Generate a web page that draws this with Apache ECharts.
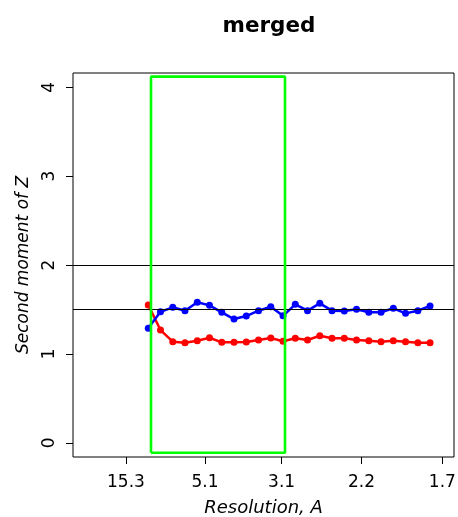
<!DOCTYPE html>
<html>
<head>
<meta charset="utf-8">
<script src="https://cdn.jsdelivr.net/npm/echarts@6/dist/echarts.min.js"></script>
<style>html,body{margin:0;padding:0;background:#fff}#c{width:458px;height:517px}</style>
</head>
<body>
<div id="c"></div>
<script>
// x values are 1/d (inverse resolution, 1/Å)
var xValues = [0.1022,0.1224,0.1427,0.1629,0.1832,0.2034,0.2237,0.2439,0.2642,0.2844,0.3047,0.3249,
               0.3452,0.3654,0.3857,0.4059,0.4262,0.4464,0.4667,0.4869,0.5072,0.5274,0.5477,0.5679];
var blueValues = [1.288,1.474,1.524,1.486,1.580,1.546,1.468,1.392,1.426,1.486,1.531,1.428,
                  1.558,1.486,1.569,1.486,1.482,1.501,1.468,1.468,1.513,1.456,1.486,1.539];
var redValues = [1.550,1.268,1.137,1.125,1.148,1.182,1.130,1.130,1.133,1.156,1.178,1.143,
                 1.175,1.156,1.204,1.175,1.175,1.156,1.148,1.137,1.148,1.137,1.125,1.125];
var xTickLabels = ['15.3','5.1','3.1','2.2','1.7'];
var yTicks = [0,1,2,3,4];
var refLines = [2, 1.5];
// green selection box: resolution range (Å) and y range
var boxResolution = [9.37, 3.047];
var boxY = [-0.1125, 4.119];

var xTickPos = xTickLabels.map(function(s){ return 1/parseFloat(s); });
function zip(xs, ys){ return xs.map(function(x,i){ return [x, ys[i]]; }); }
var bx0 = 1/boxResolution[0], bx1 = 1/boxResolution[1];
var boxData = [[bx0,boxY[0]],[bx0,boxY[1]],[bx1,boxY[1]],[bx1,boxY[0]],[bx0,boxY[0]]];

var FONT = 'DejaVu Sans';
var chart = echarts.init(document.getElementById('c'), null, {renderer:'canvas'});
chart.setOption({
  animation: false,
  backgroundColor: '#fff',
  title: {
    text: 'merged', left: 264, top: 10, textAlign: 'center',
    textStyle: {fontFamily: FONT, fontSize: 21.5, fontWeight: 'bold', color: '#000'}
  },
  grid: {left: 73, right: 4, top: 73, bottom: 60, show: true, borderColor: '#000', borderWidth: 1,
         backgroundColor: 'transparent', containLabel: false, outerBoundsMode: 'none'},
  xAxis: {
    type: 'value', min: -0.0222, max: 0.6075,
    name: 'Resolution, A', nameLocation: 'middle', nameGap: 42,
    nameTextStyle: {fontFamily: FONT, fontSize: 18, fontStyle: 'italic', color: '#000'},
    axisLine: {show: false, onZero: false},
    splitLine: {show: false},
    axisTick: {show: true, inside: false, length: 7, lineStyle: {color: '#000', width: 1}, customValues: xTickPos},
    axisLabel: {
      color: '#000', fontFamily: FONT, fontSize: 17, margin: 17, customValues: xTickPos,
      formatter: function(v){
        for (var i=0;i<xTickPos.length;i++) if (Math.abs(xTickPos[i]-v)<1e-6) return xTickLabels[i];
        return '';
      }
    }
  },
  yAxis: {
    type: 'value', min: -0.16, max: 4.16,
    name: 'Second moment of Z', nameLocation: 'middle', nameGap: 41, nameRotate: 90,
    nameTextStyle: {fontFamily: FONT, fontSize: 17, fontStyle: 'italic', color: '#000'},
    axisLine: {show: false, onZero: false},
    splitLine: {show: false},
    axisTick: {show: true, inside: false, length: 7, lineStyle: {color: '#000', width: 1}, customValues: yTicks},
    axisLabel: {color: '#000', fontFamily: FONT, fontSize: 17, margin: 15, rotate: 90, customValues: yTicks,
      formatter: function(v){ return String(Math.round(v)); }}
  },
  series: [
    {
      type: 'line', data: [], silent: true,
      markLine: {
        silent: true, symbol: ['none','none'], label: {show: false},
        lineStyle: {color: '#000', width: 1, type: 'solid'},
        data: refLines.map(function(y){ return {yAxis: y}; })
      }
    },
    {
      type: 'line', data: zip(xValues, redValues), color: '#ff0000',
      symbol: 'circle', symbolSize: 7, lineStyle: {color: '#ff0000', width: 2.5},
      itemStyle: {color: '#ff0000'}
    },
    {
      type: 'line', data: zip(xValues, blueValues), color: '#0000ff',
      symbol: 'circle', symbolSize: 7, lineStyle: {color: '#0000ff', width: 2.5},
      itemStyle: {color: '#0000ff'}
    },
    {
      type: 'line', data: boxData, symbol: 'none', silent: true,
      lineStyle: {color: '#00ff00', width: 2.6}, z: 5
    }
  ]
});
</script>
</body>
</html>
